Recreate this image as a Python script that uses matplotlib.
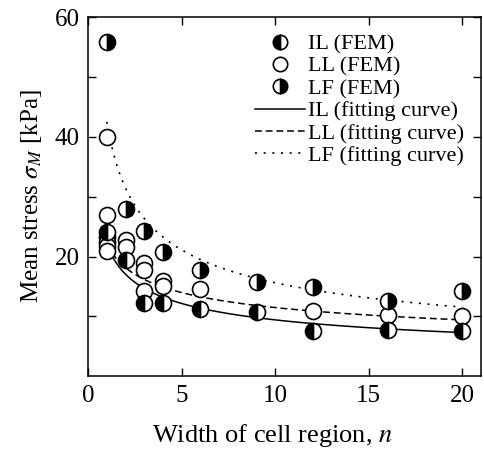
import numpy as np
import matplotlib
matplotlib.use("Agg")
import matplotlib.pyplot as plt

plt.rcParams["font.family"] = ["Liberation Serif", "DejaVu Serif"]
plt.rcParams["mathtext.fontset"] = "stix"

# ---- FEM results ----
il_n = [1, 2, 3, 4, 6, 9, 12, 16, 20]
il_s = [24.1, 19.4, 12.2, 12.2, 11.2, 10.7, 7.6, 7.8, 7.6]

ll_n = [1, 1, 1, 1, 1, 1, 2, 2, 3, 3, 3, 4, 4, 6, 12, 16, 20]
ll_s = [40.0, 27.0, 23.2, 22.5, 21.8, 21.0, 22.7, 21.6, 18.9, 17.8, 14.3,
        15.9, 15.1, 14.6, 10.85, 10.2, 10.0]

lf_n = [1, 2, 3, 4, 6, 9, 12, 16, 20]
lf_s = [55.8, 28.0, 24.2, 20.7, 17.8, 15.7, 14.9, 12.5, 14.3]

# ---- fitting curves: sigma = a * n^(-b) ----
fit_a = {"IL": 22.0, "LL": 22.1, "LF": 42.5}
fit_b = {"IL": 0.369, "LL": 0.285, "LF": 0.435}

fig = plt.figure(figsize=(4.84, 4.5), dpi=100)
ax = fig.add_axes([0.182, 0.164, 0.812, 0.798])

nn = np.linspace(1, 20, 300)
ax.plot(nn, fit_a["IL"] * nn ** -fit_b["IL"], color="black", lw=1.1, ls="-",
        label="IL (fitting curve)", zorder=2)
ax.plot(nn, fit_a["LL"] * nn ** -fit_b["LL"], color="black", lw=1.1,
        ls=(0, (4.5, 2.5)), label="LL (fitting curve)", zorder=2)
ax.plot(nn, fit_a["LF"] * nn ** -fit_b["LF"], color="black", lw=1.2,
        ls=(0, (1.2, 4.0)), label="LF (fitting curve)", zorder=2)

mk = dict(marker="o", ms=11.5, mec="black", mew=1.2, ls="none", zorder=3)
ax.plot(ll_n, ll_s, mfc="white", label="LL (FEM)", **mk)
ax.plot(il_n, il_s, fillstyle="left", mfc="black", mfcalt="white",
        label="IL (FEM)", **mk)
ax.plot(lf_n, lf_s, fillstyle="right", mfc="black", mfcalt="white",
        label="LF (FEM)", **mk)

ax.set_xlim(0, 21)
ax.set_ylim(0, 60)
ax.set_xticks([0, 5, 10, 15, 20])
ax.set_yticks([20, 40, 60])
ax.set_yticks([10, 30, 50], minor=True)
ax.tick_params(which="both", direction="in", top=True, right=True,
               length=6, width=1.0, labelsize=18, pad=6)
for s in ax.spines.values():
    s.set_linewidth(1.1)

ax.set_xlabel("Width of cell region, $n$", fontsize=19)
ax.xaxis.set_label_coords(0.468, -0.183, transform=ax.transAxes)
ax.xaxis.label.set_va("baseline")
ax.set_ylabel(r"Mean stress $\sigma_M$ [kPa]", fontsize=18, labelpad=8)

h, l = ax.get_legend_handles_labels()
order = ["IL (FEM)", "LL (FEM)", "LF (FEM)",
         "IL (fitting curve)", "LL (fitting curve)", "LF (fitting curve)"]
hh = [h[l.index(o)] for o in order]
ax.legend(hh, order, loc="upper right", bbox_to_anchor=(1.0, 1.0),
          frameon=False, fontsize=16, handlelength=2.25, handletextpad=0.15,
          labelspacing=0.08, borderaxespad=0.35, markerscale=0.9)

fig.savefig("out.png", dpi=100)
